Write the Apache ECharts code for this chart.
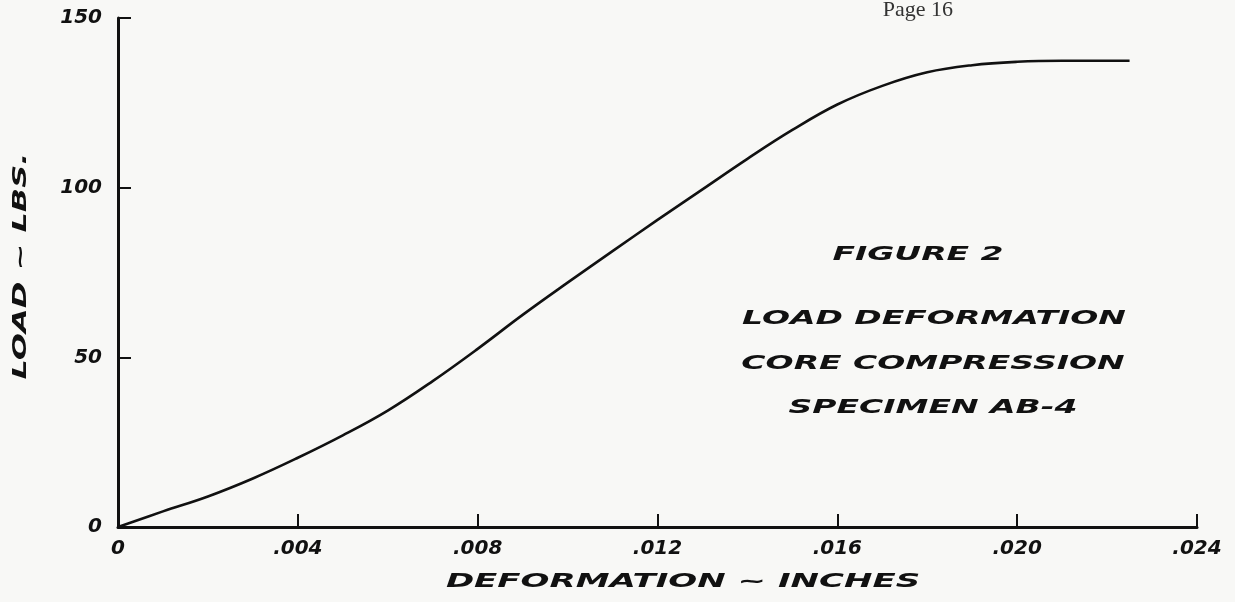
<!DOCTYPE html>
<html>
<head>
<meta charset="utf-8">
<script src="https://cdn.jsdelivr.net/npm/echarts@6/dist/echarts.min.js"></script>
<style>
html,body{margin:0;padding:0;background:#f8f8f6;}
#chart{width:1235px;height:602px;}
</style>
</head>
<body>
<div id="chart"></div>
<script>
// Data
const deformation = [0, 0.001, 0.002, 0.003, 0.004, 0.005, 0.006, 0.007, 0.008, 0.009, 0.010, 0.011, 0.012, 0.013, 0.014, 0.015, 0.016, 0.017, 0.018, 0.019, 0.020, 0.021, 0.0225];
const load =        [0, 4.6,   9.0,   14.3,  20.4,  27.0,  34.3,  43.0,  52.5,  62.5,  72.0,  81.3,  90.5,  99.5,  108.5, 117.0, 124.5, 130.0, 134.0, 136.1, 137.1, 137.4, 137.4];
const xTicks = [0, 0.004, 0.008, 0.012, 0.016, 0.020, 0.024];
const yTicks = [0, 50, 100, 150];
const xTitle = 'DEFORMATION ~ INCHES';
const yTitle = 'LOAD ~ LBS.';
const pageLabel = 'Page 16';
const noteLines = ['FIGURE 2', 'LOAD DEFORMATION', 'CORE COMPRESSION', 'SPECIMEN AB-4'];

const hand = '"DejaVu Sans", sans-serif';
const handFont = 'italic bold 20px ' + hand;
const chart = echarts.init(document.getElementById('chart'));
const pts = deformation.map((d, i) => [d, load[i]]);

function fmtX(v) {
  if (Math.abs(v) < 1e-9) return '0';
  return v.toFixed(3).replace(/^0/, '');
}

function txt(s, x, y, sx, extra) {
  return Object.assign({
    type: 'text', x: x, y: y, scaleX: sx,
    style: {text: s, font: handFont, fill: '#111', textAlign: 'center', textVerticalAlign: 'middle'}
  }, extra || {});
}

chart.setOption({
  backgroundColor: '#f8f8f6',
  animation: false,
  grid: {left: 118, right: 38, top: 18, bottom: 75},
  xAxis: {
    type: 'value', min: 0, max: 0.024, interval: 0.004,
    splitLine: {show: false},
    axisLine: {lineStyle: {color: '#111', width: 3}},
    axisTick: {inside: true, length: 13, lineStyle: {color: '#111', width: 2}},
    axisLabel: {formatter: fmtX, margin: 12, color: '#111', fontFamily: hand, fontStyle: 'italic', fontWeight: 'bold', fontSize: 20}
  },
  yAxis: {
    type: 'value', min: 0, max: 150, interval: 50,
    splitLine: {show: false},
    axisLine: {lineStyle: {color: '#111', width: 3}},
    axisTick: {inside: true, length: 13, lineStyle: {color: '#111', width: 2}},
    axisLabel: {margin: 16, color: '#111', fontFamily: hand, fontStyle: 'italic', fontWeight: 'bold', fontSize: 20}
  },
  series: [{
    type: 'line', data: pts, smooth: 0.4, showSymbol: false,
    lineStyle: {color: '#111', width: 2.6}
  }],
  graphic: [
    {type: 'text', x: 953, y: 10, style: {text: pageLabel, font: '22px "Liberation Serif", serif', fill: '#333', textAlign: 'right', textVerticalAlign: 'middle'}},
    txt(xTitle, 683, 582, 1.7),
    txt(yTitle, 21, 266, 1.6, {rotation: Math.PI / 2}),
    txt(noteLines[0], 918, 255, 1.65),
    txt(noteLines[1], 934, 319, 1.65),
    txt(noteLines[2], 933, 364, 1.65),
    txt(noteLines[3], 933, 408, 1.65)
  ]
});
</script>
</body>
</html>
